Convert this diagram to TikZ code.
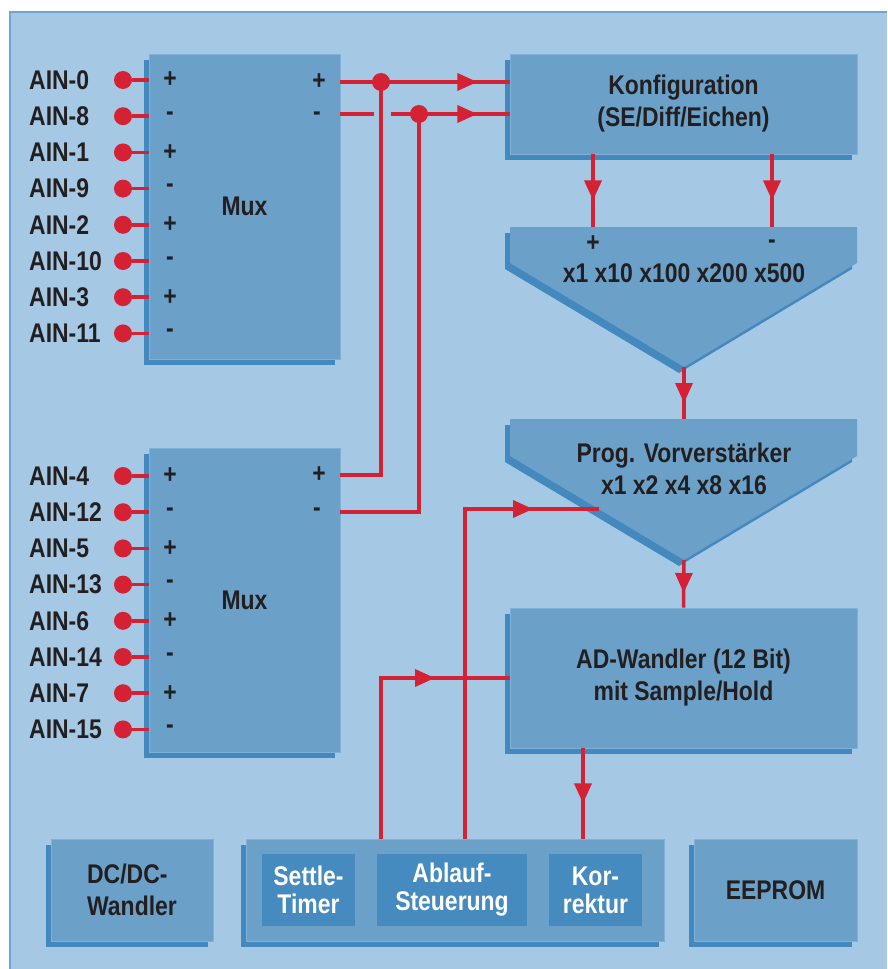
\documentclass[tikz,border=0pt]{standalone}
\usepackage{fontspec}
\setmainfont{Liberation Sans}[FakeStretch=0.85]
\usepackage{tikz}
\usetikzlibrary{arrows.meta,shadows,decorations.markings,calc}

\definecolor{bgblue}{HTML}{A5C9E4}
\definecolor{frameblue}{HTML}{72A6D2}
\definecolor{boxblue}{HTML}{6BA1C9}
\definecolor{edgeblue}{HTML}{7FB0D6}
\definecolor{shadowblue}{HTML}{4489BE}
\definecolor{innerblue}{HTML}{458BC0}
\definecolor{sigred}{HTML}{D42133}
\definecolor{inkblack}{HTML}{231F20}

\tikzset{
  boxshadow/.style={drop shadow={shadow xshift=-5pt, shadow yshift=-6pt, fill=shadowblue, opacity=1}},
  blockbox/.style={fill=boxblue, draw=edgeblue, line width=0.8pt, boxshadow, inner sep=0pt, align=center},
  innerbox/.style={fill=innerblue, inner sep=0pt, align=center, text=white,
    font=\bfseries\fontsize{27}{28}\selectfont},
  pin/.style={circle, fill=sigred, minimum size=18pt, inner sep=0pt},
  sig/.style={draw=sigred, line width=3.5pt},
  flowarrow/.style={postaction={decorate}, decoration={markings,
    mark=at position #1 with {\arrow[color=sigred]{Triangle[length=20pt,width=17pt]}}}},
}

\begin{document}
\begin{tikzpicture}[x=1pt, y=-1pt, >=Stealth,
  font=\bfseries\fontsize{27}{32}\selectfont, text=inkblack]
    \useasboundingbox (0,0) rectangle (887,969);
    \fill[bgblue] (10,12) rectangle (887,969);
    \draw[frameblue, line width=2pt] (10,969) -- (10,12) -- (887,12);

    % multiplexers
    \node[blockbox, minimum width=191, minimum height=305] (mux1) at (244.5,206.5) {Mux};
    \node[blockbox, minimum width=191, minimum height=304] (mux2) at (244.5,600) {Mux};

    % signal path
    \node[blockbox, minimum width=347, minimum height=100] (konf) at (683.5,104)
        {Konfiguration\\(SE/Diff/Eichen)};
    \fill[boxblue, boxshadow] (510,227) -- (857,227) -- (857,263) -- (684,367) -- (510,263) -- cycle;
    \fill[boxblue, boxshadow] (510,419) -- (857,419) -- (857,456) -- (684,560) -- (510,456) -- cycle;
    \coordinate (amp1top) at (684,227);
    \coordinate (amp1tip) at (684,367);
    \coordinate (amp2top) at (684,419);
    \coordinate (amp2tip) at (684,560);
    \coordinate (amp2in) at (599,509);
    \node (amp1p) at (593,244) {+};
    \node (amp1n) at (772,244) {-};
    \node (gain1) at (684,273) {x1 x10 x100 x200 x500};
    \node[align=center] (gain2) at (684,469) {Prog. Vorverstärker\\x1 x2 x4 x8 x16};
    \node[blockbox, minimum width=347, minimum height=140] (adw) at (683.5,678)
        {AD-Wandler (12 Bit)\\mit Sample/Hold};

    % bottom row
    \node[blockbox, align=left, minimum width=162, minimum height=102] (dcdc) at (132,890) {DC/DC-\\Wandler};
    \node[blockbox, minimum width=418, minimum height=102] (ctrl) at (455,890) {};
    \node[innerbox, minimum width=93, minimum height=72] (settle) at (308.5,890) {Settle-\\Timer};
    \node[innerbox, minimum width=150, minimum height=72] (ablauf) at (452,890) {Ablauf-\\Steuerung};
    \node[innerbox, minimum width=93, minimum height=72] (korr) at (595.5,890) {Kor-\\rektur};
    \node[blockbox, minimum width=163, minimum height=102] (eeprom) at (775.5,890) {EEPROM};

    % inputs
    \foreach \ain [count=\i from 0] in {0,8,1,9,2,10,3,11} {
        \pgfmathsetmacro\py{80+36.2*\i}
        \node[anchor=west, inner sep=0pt] (ain\ain) at (29,\py) {AIN-\ain};
        \node[pin] (pin\ain) at (123,\py) {};
        \node (sgn\ain) at (170,\py) {\ifodd\i -\else +\fi};
        \draw[sig] (pin\ain) -- (mux1.west |- pin\ain);
    }
    \foreach \ain [count=\i from 0] in {4,12,5,13,6,14,7,15} {
        \pgfmathsetmacro\py{476+36.2*\i}
        \node[anchor=west, inner sep=0pt] (ain\ain) at (29,\py) {AIN-\ain};
        \node[pin] (pin\ain) at (123,\py) {};
        \node (sgn\ain) at (170,\py) {\ifodd\i -\else +\fi};
        \draw[sig] (pin\ain) -- (mux2.west |- pin\ain);
    }

    % mux outputs
    \node (m1plus) at (319,82) {+};
    \node (m1minus) at (317,116) {-};
    \node (m2plus) at (319,475) {+};
    \node (m2minus) at (317,512) {-};
    \coordinate (m1p) at (mux1.east |- 0,82);
    \coordinate (m1n) at (mux1.east |- 0,114);
    \coordinate (m2p) at (mux2.east |- 0,475);
    \coordinate (m2n) at (mux2.east |- 0,512);
    \coordinate (j1) at (381,82);
    \coordinate (j2) at (419,114);

    \draw[sig, flowarrow=137pt] (m1p) -- (konf.west |- m1p);
    \draw[sig] (m1n) -- ++(34,0);
    \draw[sig, flowarrow=86pt] ($(m1n)+(51,0)$) -- (konf.west |- m1n);
    \draw[sig] (j1) |- (m2p);
    \draw[sig] (j2) |- (m2n);
    \fill[sigred] (j1) circle (9);
    \fill[sigred] (j2) circle (9);

    % amplifier chain
    \draw[sig, flowarrow=46pt] (konf.south -| amp1p) -- (amp1p |- amp1top);
    \draw[sig, flowarrow=46pt] (konf.south -| amp1n) -- (amp1n |- amp1top);
    \draw[sig, flowarrow=36pt] (amp1tip) -- (amp2top);
    \draw[sig, flowarrow=33pt] (amp2tip) -- (adw.north);

    % control lines
    \coordinate (c1) at (381,839);
    \coordinate (c2) at (465,839);
    \coordinate (c3) at (583,839);
    \draw[sig, flowarrow=398pt] (c2) |- (amp2in);
    \draw[sig, flowarrow=215pt] (c1) |- (adw.west);
    \draw[sig, flowarrow=55pt] (adw.south -| c3) -- (c3);
\end{tikzpicture}
\end{document}
